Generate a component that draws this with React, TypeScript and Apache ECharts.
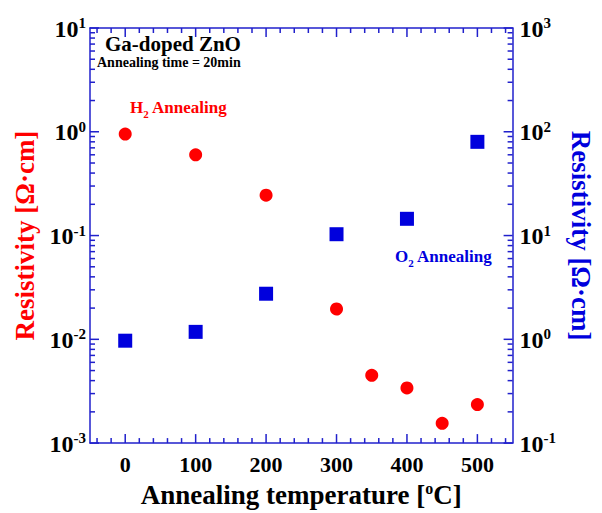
import React, { useEffect, useRef } from "react";
import * as echarts from "echarts";

const temperaturesH2 = [0, 100, 200, 300, 350, 400, 450, 500];
const resistivityH2 = [0.95, 0.6, 0.245, 0.0196, 0.0045, 0.0034, 0.00155, 0.00235];
const temperaturesO2 = [0, 100, 200, 300, 400, 500];
const resistivityO2 = [0.97, 1.18, 2.75, 10.3, 14.5, 80];
const xMajorTicks = [0, 100, 200, 300, 400, 500];

const FONT = "'Liberation Serif', 'DejaVu Serif', serif";
const RED = "#ff0000";
const BLUE = "#0000dd";
const AXIS_BLUE = "#2020cc";

function logMinor(minExp: number, maxExp: number): number[] {
  const out: number[] = [];
  for (let e = minExp; e < maxExp; e++) {
    for (let k = 2; k <= 9; k++) out.push(k * Math.pow(10, e));
  }
  return out;
}
function logMajor(minExp: number, maxExp: number): number[] {
  const out: number[] = [];
  for (let e = minExp; e <= maxExp; e++) out.push(Math.pow(10, e));
  return out;
}
function linMinor(): number[] {
  const out: number[] = [];
  for (let v = -40; v <= 540; v += 20) if (v % 100 !== 0) out.push(v);
  return out;
}

const expLabel = (v: number) => {
  const e = Math.round(Math.log10(v));
  return `{b|10}{s|${e}}`;
};
const expRich = {
  b: { fontFamily: FONT, fontWeight: "bold", fontSize: 24, color: "#000", verticalAlign: "bottom" },
  s: { fontFamily: FONT, fontWeight: "bold", fontSize: 15, color: "#000", verticalAlign: "top", padding: [0, 0, 10, 0] },
};

const MAJOR_LEN = 9;
const MINOR_LEN = 5;
const tickStyle = { stroke: AXIS_BLUE, lineWidth: 1.5 };

function xTickSeries(values: number[], len: number) {
  return {
    type: "custom",
    xAxisIndex: 0,
    yAxisIndex: 0,
    clip: false,
    silent: true,
    z: 5,
    data: values.map((v) => [v, 1]),
    renderItem: (params: any, api: any) => {
      const cs = params.coordSys;
      const px = api.coord([api.value(0), 1])[0];
      const bottom = cs.y + cs.height;
      const top = cs.y;
      return {
        type: "group",
        children: [
          { type: "line", shape: { x1: px, y1: bottom, x2: px, y2: bottom - len }, style: tickStyle },
          { type: "line", shape: { x1: px, y1: top, x2: px, y2: top + len }, style: tickStyle },
        ],
      };
    },
  };
}

function yTickSeries(values: number[], len: number, yAxisIndex: number, side: "left" | "right") {
  return {
    type: "custom",
    xAxisIndex: 0,
    yAxisIndex,
    clip: false,
    silent: true,
    z: 5,
    data: values.map((v) => [0, v]),
    renderItem: (params: any, api: any) => {
      const cs = params.coordSys;
      const py = api.coord([0, api.value(1)])[1];
      const x0 = side === "left" ? cs.x : cs.x + cs.width;
      const x1 = side === "left" ? x0 + len : x0 - len;
      return { type: "line", shape: { x1: x0, y1: py, x2: x1, y2: py }, style: tickStyle };
    },
  };
}

export default function App() {
  const ref = useRef<HTMLDivElement>(null);
  useEffect(() => {
    if (!ref.current) return;
    const chart = echarts.init(ref.current, null, { renderer: "svg" });
    const axisLine = { show: true, onZero: false, lineStyle: { color: AXIS_BLUE, width: 1.5 } };
    const xBase = { type: "value", min: -50, max: 550, gridIndex: 0, splitLine: { show: false }, axisTick: { show: false } };
    const option: any = {
      animation: false,
      backgroundColor: "#fff",
      grid: { left: 90, right: 86, top: 28, bottom: 61, containLabel: false },
      xAxis: [
        {
          ...xBase,
          position: "bottom",
          axisLine,
          axisLabel: {
            show: true,
            customValues: xMajorTicks,
            margin: 10,
            fontFamily: FONT,
            fontWeight: "bold",
            fontSize: 22,
            color: "#000",
          },
          name: "{t|Annealing temperature [}{s|o}{t|C]}",
          nameLocation: "middle",
          nameGap: 30,
          nameTextStyle: {
            rich: {
              t: { fontFamily: FONT, fontWeight: "bold", fontSize: 27, color: "#000", verticalAlign: "bottom" },
              s: { fontFamily: FONT, fontWeight: "bold", fontSize: 16, color: "#000", verticalAlign: "top", padding: [0, 0, 12, 0] },
            },
          },
        },
        {
          ...xBase,
          position: "top",
          axisLine,
          axisLabel: { show: false },
        },
      ],
      yAxis: [
        {
          type: "log",
          logBase: 10,
          min: 0.001,
          max: 10,
          splitLine: { show: false },
          position: "left",
          axisLine,
          axisTick: { show: false },
          axisLabel: { show: true, customValues: logMajor(-3, 1), margin: 4, formatter: expLabel, rich: expRich },
          name: "Resistivity [Ω·cm]",
          nameLocation: "middle",
          nameGap: 50,
          nameRotate: 90,
          nameTextStyle: { fontFamily: FONT, fontWeight: "bold", fontSize: 27, color: RED },
        },
        {
          type: "log",
          logBase: 10,
          min: 0.1,
          max: 1000,
          splitLine: { show: false },
          position: "right",
          axisLine,
          axisTick: { show: false },
          axisLabel: { show: true, customValues: logMajor(-1, 3), margin: 7, formatter: expLabel, rich: expRich },
          name: "Resistivity [Ω·cm]",
          nameLocation: "middle",
          nameGap: 47,
          nameRotate: -90,
          nameTextStyle: { fontFamily: FONT, fontWeight: "bold", fontSize: 27, color: BLUE },
        },
      ],
      series: [
        xTickSeries(xMajorTicks, MAJOR_LEN),
        xTickSeries(linMinor(), MINOR_LEN),
        yTickSeries(logMajor(-3, 1), MAJOR_LEN, 0, "left"),
        yTickSeries(logMinor(-3, 1), MINOR_LEN, 0, "left"),
        yTickSeries(logMajor(-1, 3), MAJOR_LEN, 1, "right"),
        yTickSeries(logMinor(-1, 3), MINOR_LEN, 1, "right"),
        {
          name: "H2 Annealing",
          type: "scatter",
          xAxisIndex: 0,
          yAxisIndex: 0,
          symbol: "circle",
          symbolSize: 13,
          itemStyle: { color: RED, opacity: 1 },
          data: temperaturesH2.map((t, i) => [t, resistivityH2[i]]),
        },
        {
          name: "O2 Annealing",
          type: "scatter",
          xAxisIndex: 0,
          yAxisIndex: 1,
          symbol: "rect",
          symbolSize: 14,
          itemStyle: { color: BLUE, opacity: 1 },
          data: temperaturesO2.map((t, i) => [t, resistivityO2[i]]),
        },
      ],
      graphic: [
        {
          type: "text",
          left: 105,
          top: 33,
          style: { text: "Ga-doped ZnO", fontFamily: FONT, fontWeight: "bold", fontSize: 21, fill: "#000" },
        },
        {
          type: "text",
          left: 97,
          top: 55,
          style: { text: "Annealing time = 20min", fontFamily: FONT, fontWeight: "bold", fontSize: 14, fill: "#000" },
        },
        {
          type: "text",
          left: 130,
          top: 99,
          style: {
            text: "{t|H}{s|2}{t| Annealing}",
            rich: {
              t: { fontFamily: FONT, fontWeight: "bold", fontSize: 17, fill: RED, color: RED, verticalAlign: "top" },
              s: { fontFamily: FONT, fontWeight: "bold", fontSize: 11, fill: RED, color: RED, verticalAlign: "bottom", padding: [9, 0, 0, 0] },
            },
          },
        },
        {
          type: "text",
          left: 395,
          top: 248,
          style: {
            text: "{t|O}{s|2}{t| Annealing}",
            rich: {
              t: { fontFamily: FONT, fontWeight: "bold", fontSize: 17, fill: BLUE, color: BLUE, verticalAlign: "top" },
              s: { fontFamily: FONT, fontWeight: "bold", fontSize: 11, fill: BLUE, color: BLUE, verticalAlign: "bottom", padding: [9, 0, 0, 0] },
            },
          },
        },
      ],
    };
    chart.setOption(option);
    return () => chart.dispose();
  }, []);
  return (
    <div
      ref={ref}
      style={{ position: "fixed", left: 0, top: 0, width: 602, height: 513, background: "#fff" }}
    />
  );
}
